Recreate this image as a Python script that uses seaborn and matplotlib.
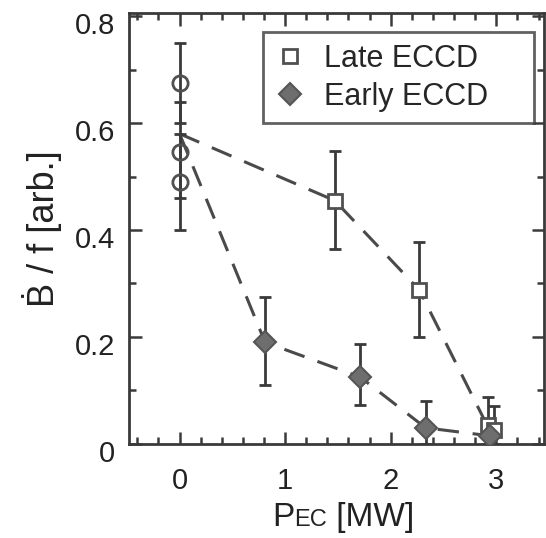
import matplotlib
matplotlib.use("Agg")
import matplotlib.pyplot as plt
import matplotlib.transforms as mtransforms
import seaborn as sns
import numpy as np
import pandas as pd
from matplotlib.ticker import MultipleLocator

# Ohmic reference shots (no ECCD) at zero power
ohmic_p = [0.0, 0.0, 0.0]
ohmic_b = [0.675, 0.545, 0.49]
ohmic_lo = [0.60, 0.46, 0.40]
ohmic_hi = [0.75, 0.64, 0.58]

# Late ECCD series
late_p = [1.47, 2.27, 2.92, 2.98]
late_b = [0.455, 0.288, 0.035, 0.025]
late_lo = [0.365, 0.20, 0.0, 0.0]
late_hi = [0.548, 0.378, 0.088, 0.07]

# Early ECCD series
early_p = [0.81, 1.71, 2.33, 2.94]
early_b = [0.19, 0.125, 0.03, 0.015]
early_lo = [0.11, 0.073, 0.0, 0.0]
early_hi = [0.275, 0.187, 0.08, 0.04]

# Dashed trend lines, both starting from the ohmic average
start_p, start_b = 0.0, 0.58
late_line_p = [start_p, 1.47, 2.27, 2.95]
late_line_b = [start_b, 0.455, 0.288, 0.02]
early_line_p = [start_p, 0.81, 1.71, 2.33, 2.94]
early_line_b = [start_b, 0.19, 0.125, 0.03, 0.015]

x_ticks = [0, 1, 2, 3]
y_ticks = [0, 0.2, 0.4, 0.6, 0.8]
y_tick_labels = ["0", "0.2", "0.4", "0.6", "0.8"]

sns.set_theme(style="ticks")
plt.rcParams["font.family"] = ["Liberation Sans", "DejaVu Sans"]

ink = "#3a3a3a"
txt = "#222222"
fig = plt.figure(figsize=(5.46, 5.38), dpi=100)
ax = fig.add_axes([0.236, 0.175, 0.76, 0.80])

lines = pd.DataFrame({
    "p": late_line_p + early_line_p,
    "b": late_line_b + early_line_b,
    "series": ["late"] * len(late_line_p) + ["early"] * len(early_line_p),
})
sns.lineplot(data=lines, x="p", y="b", units="series", estimator=None, sort=False,
             color="#4a4a4a", lw=2.2, dashes=False, ax=ax, legend=False)
for l in ax.get_lines():
    l.set_dashes([7, 4.5])

def bars(px, py, lo, hi):
    py = np.asarray(py)
    err = np.vstack([py - np.asarray(lo), np.asarray(hi) - py])
    ax.errorbar(px, py, yerr=err, fmt="none", ecolor=ink, elinewidth=2.0,
                capsize=4.5, capthick=2.0, zorder=3)

bars(ohmic_p, ohmic_b, ohmic_lo, ohmic_hi)
bars(late_p, late_b, late_lo, late_hi)
bars(early_p, early_b, early_lo, early_hi)

ax.plot(ohmic_p, ohmic_b, linestyle="none", marker="o", ms=11, mfc="none",
        mec="#505050", mew=2.0, zorder=4)
h_late, = ax.plot(late_p, late_b, linestyle="none", marker="s", ms=10,
                  mfc="white", mec="#505050", mew=2.0, zorder=4, label="Late ECCD")
h_early, = ax.plot(early_p, early_b, linestyle="none", marker="D", ms=11,
                   mfc="#6e6e6e", mec="#555555", mew=1.5, zorder=5, label="Early ECCD")

ax.set_xlim(-0.48, 3.45)
ax.set_ylim(0, 0.805)
ax.set_xticks(x_ticks)
ax.set_yticks(y_ticks)
ax.set_yticklabels(y_tick_labels)
ax.xaxis.set_minor_locator(MultipleLocator(0.2))
ax.yaxis.set_minor_locator(MultipleLocator(0.1))
ax.tick_params(which="both", direction="in", top=True, right=True, color=ink, width=1.8)
ax.tick_params(which="major", length=9, labelsize=21, labelcolor=txt)
ax.tick_params(axis="x", which="major", pad=17)
ax.tick_params(axis="y", which="major", pad=10)
ax.tick_params(which="minor", length=5)
for s in ax.spines.values():
    s.set_linewidth(2.0)
    s.set_color(ink)

# y tick labels sit slightly below their ticks
shift = mtransforms.ScaledTranslation(0, -7 / 100, fig.dpi_scale_trans)
for lab in ax.get_yticklabels():
    lab.set_transform(lab.get_transform() + shift)

ax.set_xlabel("")
ax.set_ylabel("Ḃ / f [arb.]", fontsize=26, color=txt, labelpad=9)

# x-axis label: "P" with a smaller "EC" on the same baseline, then "[MW]"
renderer = fig.canvas.get_renderer()
base_y = 1 - 526 / 538
parts = [("P", 24), ("EC", 17), (" [MW]", 24)]
widths = []
for s, fs in parts:
    t = fig.text(0, 0, s, fontsize=fs)
    widths.append(t.get_window_extent(renderer).width / fig.bbox.width)
    t.remove()
x0 = 343 / 546 - sum(widths) / 2
for (s, fs), w in zip(parts, widths):
    fig.text(x0, base_y, s, fontsize=fs, color=txt, va="baseline", ha="left")
    x0 += w

leg = ax.legend(handles=[h_late, h_early], loc="upper left",
                bbox_to_anchor=(0.324, 0.742, 0.652, 0.214), mode="expand",
                fontsize=22, frameon=True, fancybox=False, handletextpad=0.6,
                borderpad=0.38, labelspacing=0.25, handlelength=1.0,
                borderaxespad=0)
leg.get_frame().set_edgecolor(ink)
leg.get_frame().set_linewidth(2.0)

fig.savefig("out.png", dpi=100)
